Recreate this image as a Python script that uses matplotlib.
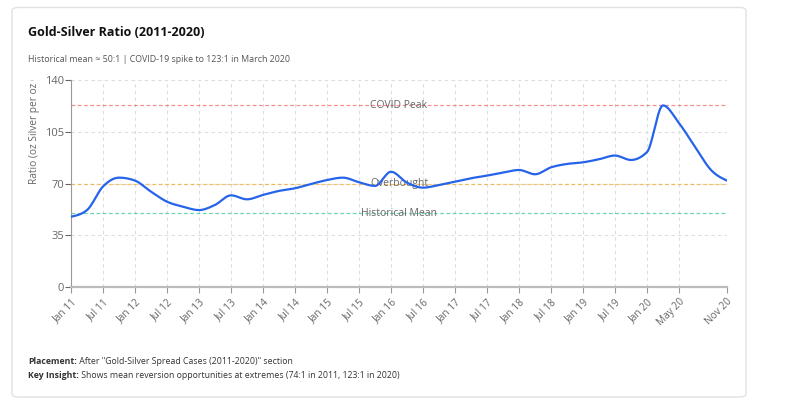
import numpy as np
import matplotlib
matplotlib.use("Agg")
import matplotlib.pyplot as plt
from matplotlib.patches import FancyBboxPatch, Rectangle

plt.rcParams["font.family"] = ["Open Sans", "DejaVu Sans"]

# quarterly points, Jan 2011 .. Nov 2020
dates = [
    "Jan 11", "Apr 11", "Jul 11", "Oct 11", "Jan 12", "Apr 12", "Jul 12", "Oct 12",
    "Jan 13", "Apr 13", "Jul 13", "Oct 13", "Jan 14", "Apr 14", "Jul 14", "Oct 14",
    "Jan 15", "Apr 15", "Jul 15", "Oct 15", "Jan 16", "Apr 16", "Jul 16", "Oct 16",
    "Jan 17", "Apr 17", "Jul 17", "Oct 17", "Jan 18", "Apr 18", "Jul 18", "Oct 18",
    "Jan 19", "Apr 19", "Jul 19", "Oct 19", "Jan 20", "Mar 20", "May 20", "Jul 20",
    "Sep 20", "Nov 20",
]
ratio = [
    47.5, 52, 68, 74, 72, 64.5, 57.7, 54.3,
    52, 55.5, 62, 59.3, 62.3, 65, 66.8, 69.7,
    72.4, 74, 70.9, 68.4, 78, 70.6, 67.2, 69,
    71.3, 73.6, 75.4, 77.4, 79.2, 76.3, 81, 83.3,
    84.4, 86.5, 89, 86, 91.4, 123, 111, 95,
    79.2, 72,
]
shown_ticks = [d for i, d in enumerate(dates) if i % 2 == 0 and i <= 38] + ["Nov 20"]

ref_lines = [
    (123, "COVID Peak", "#ef4444"),
    (70, "Overbought", "#f59e0b"),
    (50, "Historical Mean", "#10b981"),
]


def monotone(x, y, n=20):
    # d3 curveMonotoneX style cubic hermite
    x = np.asarray(x, float)
    y = np.asarray(y, float)
    h = np.diff(x)
    s = np.diff(y) / h
    t = np.zeros_like(y)
    for i in range(1, len(y) - 1):
        p = (s[i - 1] * h[i] + s[i] * h[i - 1]) / (h[i - 1] + h[i])
        t[i] = (np.sign(s[i - 1]) + np.sign(s[i])) * min(abs(s[i - 1]), abs(s[i]), 0.5 * abs(p))
    t[0] = (3 * s[0] - t[1]) / 2
    t[-1] = (3 * s[-1] - t[-2]) / 2
    xs, ys = [], []
    for i in range(len(h)):
        u = np.linspace(0, 1, n, endpoint=False)
        h00 = 2 * u**3 - 3 * u**2 + 1
        h10 = u**3 - 2 * u**2 + u
        h01 = -2 * u**3 + 3 * u**2
        h11 = u**3 - u**2
        xs.append(x[i] + u * h[i])
        ys.append(h00 * y[i] + h10 * h[i] * t[i] + h01 * y[i + 1] + h11 * h[i] * t[i + 1])
    xs.append([x[-1]])
    ys.append([y[-1]])
    return np.concatenate(xs), np.concatenate(ys)


W, H = 785, 418
fig = plt.figure(figsize=(W / 100, H / 100), dpi=100)

# card
card = FancyBboxPatch((12 / W, 1 - 397 / H), 734 / W, 389.5 / H,
                      boxstyle="round,pad=0,rounding_size=0.008",
                      transform=fig.transFigure, facecolor="white",
                      edgecolor="#e2e2e2", linewidth=1, zorder=-10)
fig.patches.append(card)

fig.text(28 / W, 1 - 33 / H, "Gold-Silver Ratio (2011-2020)", fontsize=9,
         fontweight="bold", color="#111111", va="center")
fig.text(28 / W, 1 - 60 / H, "Historical mean ≈ 50:1 | COVID-19 spike to 123:1 in March 2020",
         fontsize=6.4, color="#555555", va="center")

ax = fig.add_axes([71 / W, 1 - 286.7 / H, 656 / W, 206.3 / H])
ax.patch.set_alpha(0)
x = np.arange(len(dates))
ax.set_xlim(0, len(dates) - 1)
ax.set_ylim(0, 140)

tick_pos = [dates.index(d) for d in shown_ticks]
ax.set_xticks(tick_pos)
ax.set_xticklabels(shown_ticks, rotation=45, ha="right", va="top",
                   rotation_mode="anchor", fontsize=7.3, color="#666666")
ax.set_yticks([0, 35, 70, 105, 140])
ax.tick_params(axis="y", labelsize=8, colors="#666666", length=4, width=0.8, pad=1)
ax.tick_params(axis="x", length=4, width=0.8, pad=3, color="#999999")

for p in tick_pos:
    ax.axvline(p, color="#dddddd", linestyle=(0, (3, 3)), linewidth=0.8, zorder=0)
for v in [35, 70, 105, 140]:
    ax.axhline(v, color="#dddddd", linestyle=(0, (3, 3)), linewidth=0.8, zorder=0)

for val, name, col in ref_lines:
    ax.axhline(val, color=col, linestyle=(0, (3, 2)), linewidth=0.9, alpha=0.6, zorder=1)
    ax.text((len(dates) - 1) / 2, val, name, ha="center", va="center",
            fontsize=7.5, color="#666666", zorder=2)

xs, ys = monotone(x, ratio)
ax.plot(xs, ys, color="#2563eb", linewidth=1.6, zorder=3)

for side in ["top", "right"]:
    ax.spines[side].set_visible(False)
ax.spines["left"].set_color("#999999")
ax.spines["left"].set_linewidth(0.8)
ax.spines["bottom"].set_color("#bbbbbb")
ax.spines["bottom"].set_linewidth(1.6)

ylab = fig.text(35 / W, 1 - 183.5 / H, "Ratio (oz Silver per oz Gold)", rotation=90,
                rotation_mode="anchor", ha="left", va="center", fontsize=7.3,
                color="#666666")
clip = Rectangle((0, 1 - 286.7 / H), 1, 206.3 / H, transform=fig.transFigure)
ylab.set_clip_path(clip)

line1_b = fig.text(28 / W, 1 - 364 / H, "Placement:", fontsize=6.3, fontweight="bold",
                   color="#333333", va="baseline")
line2_b = fig.text(28 / W, 1 - 378 / H, "Key Insight:", fontsize=6.3, fontweight="bold",
                   color="#333333", va="baseline")
fig.canvas.draw()
r = fig.canvas.get_renderer()
for t_b, rest, yy in [(line1_b, " After \"Gold-Silver Spread Cases (2011-2020)\" section", 364),
                      (line2_b, " Shows mean reversion opportunities at extremes (74:1 in 2011, 123:1 in 2020)", 378)]:
    bb = t_b.get_window_extent(renderer=r)
    fig.text(bb.x1 / W, 1 - yy / H, rest, fontsize=6.3, color="#333333", va="baseline")

fig.savefig("out.png", dpi=100, facecolor="white")
